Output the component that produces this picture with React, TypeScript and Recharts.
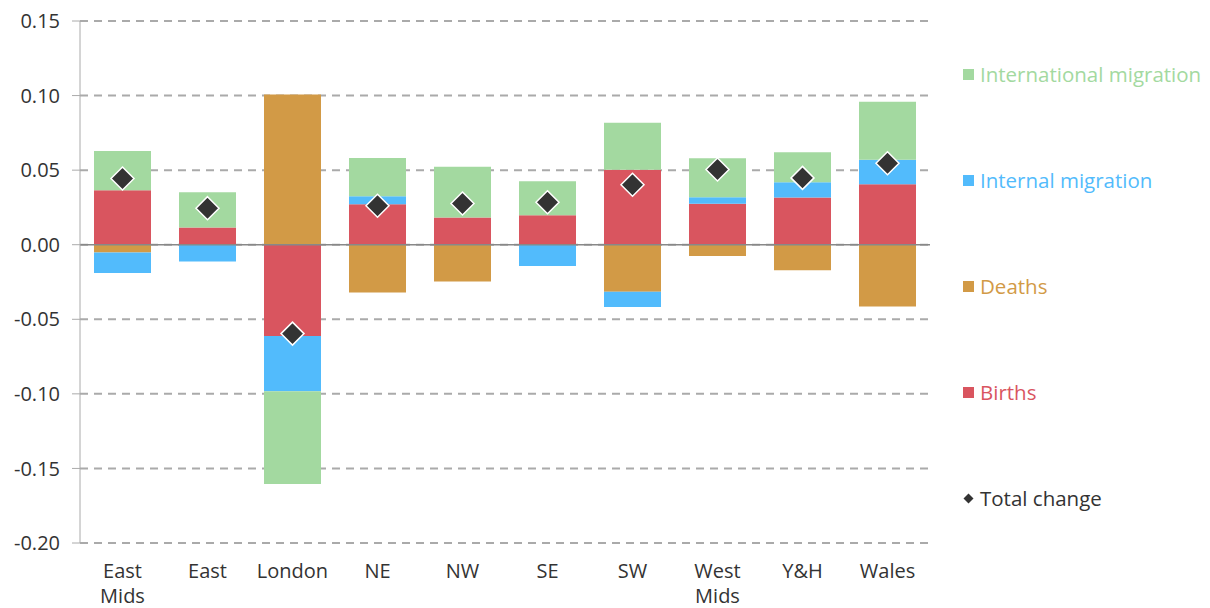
import { ComposedChart, Bar, Scatter, XAxis, YAxis, CartesianGrid, ReferenceLine } from 'recharts';

const categories = ['East Mids', 'East', 'London', 'NE', 'NW', 'SE', 'SW', 'West Mids', 'Y&H', 'Wales'];
const births = [0.0366, 0.0116, -0.0612, 0.0272, 0.0183, 0.0198, 0.0502, 0.0274, 0.0317, 0.0406];
const deaths = [-0.0052, 0, 0.1008, -0.0321, -0.0246, 0, -0.0315, -0.0076, -0.0172, -0.0415];
const internalMigration = [-0.0138, -0.0112, -0.037, 0.0053, 0, -0.0143, -0.0102, 0.0045, 0.0102, 0.0163];
const internationalMigration = [0.0263, 0.0236, -0.0622, 0.0257, 0.0339, 0.0228, 0.0315, 0.0261, 0.0201, 0.039];
const totalChange = [0.0444, 0.0245, -0.0596, 0.0261, 0.0276, 0.0285, 0.0402, 0.0504, 0.0448, 0.0546];
const yTicks = [-0.2, -0.15, -0.1, -0.05, 0, 0.05, 0.1, 0.15];

const FONT = '"Open Sans", sans-serif';

const colors = {
  births: '#d9555f',
  deaths: '#d29a46',
  internal: '#52bbfc',
  international: '#a3d9a0',
  total: '#333333',
};

const data = categories.map((name, i) => ({
  name,
  births: births[i],
  deaths: deaths[i],
  internal: internalMigration[i],
  international: internationalMigration[i],
  total: totalChange[i],
}));

const legendItems = [
  { label: 'International migration', color: colors.international },
  { label: 'Internal migration', color: colors.internal },
  { label: 'Deaths', color: colors.deaths },
  { label: 'Births', color: colors.births },
];

function Diamond(props: any) {
  const { cx, cy } = props;
  const r = 11.5;
  return (
    <polygon
      points={`${cx},${cy - r} ${cx + r},${cy} ${cx},${cy + r} ${cx - r},${cy}`}
      fill={colors.total}
      stroke="#ffffff"
      strokeWidth={1.5}
    />
  );
}

function CategoryTick(props: any) {
  const { x, y, payload } = props;
  const lines = String(payload.value).split(' ');
  return (
    <text x={x} y={y} textAnchor="middle" fill="#333" fontSize={20} fontFamily={FONT}>
      {lines.map((line, i) => (
        <tspan key={i} x={x} dy={i === 0 ? 27 : 25}>
          {line}
        </tspan>
      ))}
    </text>
  );
}

function SideLegend() {
  return (
    <div style={{ position: 'absolute', left: 955, top: 55, fontFamily: FONT, fontSize: 20.5 }}>
      {legendItems.map((item) => (
        <div key={item.label} style={{ height: 106 }}>
          <div style={{ display: 'flex', alignItems: 'center', height: 22 }}>
            <span style={{ width: 11, height: 11, background: item.color, marginRight: 6, display: 'inline-block' }} />
            <span style={{ color: item.color, whiteSpace: 'nowrap' }}>{item.label}</span>
          </div>
        </div>
      ))}
      <div style={{ display: 'flex', alignItems: 'center', height: 22 }}>
        <svg width={11} height={11} style={{ marginRight: 6 }}>
          <polygon points="5.5,0.5 10.5,5.5 5.5,10.5 0.5,5.5" fill={colors.total} />
        </svg>
        <span style={{ color: colors.total, whiteSpace: 'nowrap' }}>Total change</span>
      </div>
    </div>
  );
}

export default function App() {
  return (
    <div style={{ position: 'relative', width: 1194, height: 600 }}>
      <ComposedChart
        width={1194}
        height={600}
        data={data}
        stackOffset="sign"
        barSize={57}
        margin={{ top: 13, right: 272, bottom: 0, left: 0 }}
      >
        <CartesianGrid vertical={false} stroke="#aaaaaa" strokeWidth={2} strokeDasharray="8 6" />
        <XAxis dataKey="name" axisLine={false} tickLine={false} height={65} tick={<CategoryTick />} interval={0} />
        <YAxis
          domain={[-0.2, 0.15]}
          ticks={yTicks}
          width={72}
          tickFormatter={(v: number) => v.toFixed(2)}
          tick={{ fill: '#333', fontSize: 20, fontFamily: FONT }}
          tickSize={8}
          tickMargin={12}
          stroke="#aaaaaa"
          allowDataOverflow
        />
        <Bar dataKey="births" stackId="a" fill={colors.births} isAnimationActive={false} />
        <Bar dataKey="deaths" stackId="a" fill={colors.deaths} isAnimationActive={false} />
        <Bar dataKey="internal" stackId="a" fill={colors.internal} isAnimationActive={false} />
        <Bar dataKey="international" stackId="a" fill={colors.international} isAnimationActive={false} />
        <ReferenceLine y={0} stroke="#888888" strokeWidth={1.5} />
        <Scatter dataKey="total" shape={<Diamond />} isAnimationActive={false} />
      </ComposedChart>
      <SideLegend />
    </div>
  );
}
